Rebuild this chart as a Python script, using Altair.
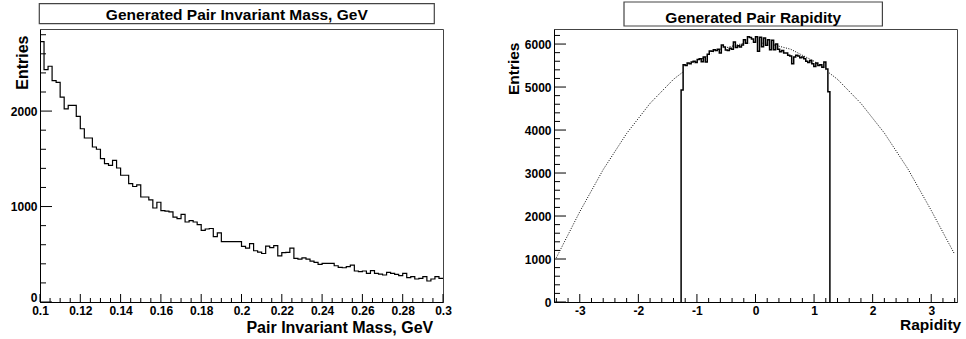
import altair as alt
import numpy as np
import pandas as pd

FONT = "Liberation Sans"
W, H = 403, 273

# ---------------- left panel: pair invariant mass ----------------
mass_range = [0.1, 0.3]
mass_counts = [
    2728, 2435, 2470, 2320, 2300, 2146, 2024, 2060, 2060, 1944,
    1815, 1718, 1718, 1624, 1600, 1502, 1450, 1432, 1484, 1404,
    1328, 1328, 1240, 1210, 1228, 1100, 1100, 1070, 985, 1045,
    958, 952, 945, 890, 873, 918, 838, 852, 838, 810,
    750, 765, 770, 684, 725, 632, 632, 632, 632, 632,
    583, 565, 612, 537, 523, 508, 585, 570, 590, 483,
    518, 520, 565, 457, 450, 462, 450, 429, 415, 394,
    405, 405, 405, 380, 363, 359, 370, 387, 325, 318,
    325, 300, 328, 300, 293, 283, 311, 300, 290, 276,
    300, 255, 265, 241, 248, 265, 220, 241, 265, 248,
]
mass_y_max = 2860
mass_x_ticks = [0.1, 0.12, 0.14, 0.16, 0.18, 0.2, 0.22, 0.24, 0.26, 0.28, 0.3]
mass_y_ticks = [0, 1000, 2000]

# ---------------- right panel: pair rapidity ----------------
rap_axis_range = [-3.44, 3.44]
rap_hist_range = [-1.27, 1.27]
rap_counts = [
    4930, 5520, 5500, 5560, 5540, 5580, 5600, 5570, 5640, 5660,
    5590, 5700, 5580, 5760, 5840, 5830, 5870, 5850, 5880, 5790,
    5980, 5930, 5860, 5850, 5900, 5880, 6050, 5920, 5960, 5930,
    5980, 6100, 6020, 6170, 6150, 6120, 6040, 6170, 5830, 6160,
    5940, 6140, 5970, 6100, 5870, 6090, 5870, 6000, 5880, 5820,
    5850, 5790, 5790, 5740, 5720, 5540, 5700, 5740, 5720, 5680,
    5700, 5660, 5600, 5570, 5620, 5540, 5480, 5560, 5500, 5520,
    5460, 5580, 5420, 4890,
]
rap_y_max = 6350
rap_x_ticks = [-3, -2, -1, 0, 1, 2, 3]
rap_y_ticks = [0, 1000, 2000, 3000, 4000, 5000, 6000]
fit_x = [-3.4, -3.0, -2.6, -2.2, -1.8, -1.4, -1.0, -0.6, -0.2,
         0.2, 0.6, 1.0, 1.4, 1.8, 2.2, 2.6, 3.0, 3.4]
fit_y = [1030, 2100, 3080, 3920, 4620, 5180, 5600, 5880, 6020,
         6020, 5880, 5600, 5180, 4620, 3930, 3100, 2130, 1110]


def hist_frame(lo, hi, counts, close):
    edges = np.linspace(lo, hi, len(counts) + 1)
    xs = list(edges[:-1]) + [edges[-1]]
    ys = list(counts) + [counts[-1]]
    if close:
        xs = [edges[0]] + xs + [edges[-1]]
        ys = [0] + ys + [0]
    return pd.DataFrame({"x": xs, "y": ys, "i": range(len(xs))})


def minor(lo, hi, step, majors):
    n = int(round((hi - lo) / step))
    vals = [round(lo + k * step, 6) for k in range(n + 1)]
    return [v for v in vals if all(abs(v - m) > 1e-9 for m in majors)]


def make_panel(xs, ys, xa, ya, layers_spec, x_major, x_minor, y_major, y_minor, box):
    X = lambda: alt.X("x:Q", scale=xs, axis=xa)
    Y = lambda: alt.Y("y:Q", scale=ys, axis=ya)
    layers = []
    for df, mark in layers_spec:
        kind = mark.pop("_kind", "line")
        ch = alt.Chart(df)
        ch = ch.mark_area(**mark) if kind == "area" else ch.mark_line(**mark)
        layers.append(ch.encode(x=X(), y=Y(), order="i:Q"))
    # inward ticks
    for vals, length in ((y_major, 12), (y_minor, 6)):
        layers.append(alt.Chart(pd.DataFrame({"y": vals})).mark_rule(color="black", strokeWidth=1)
                      .encode(y=Y(), x=alt.value(0), x2=alt.value(length)))
    for vals, length in ((x_major, 8), (x_minor, 4)):
        layers.append(alt.Chart(pd.DataFrame({"x": vals})).mark_rule(color="black", strokeWidth=1)
                      .encode(x=X(), y=alt.value(H), y2=alt.value(H - length)))
    text, x0, x1, y0, y1, size = box
    tdf = pd.DataFrame({"t": [text]})
    layers.append(alt.Chart(tdf).mark_rect(fill="white", stroke="#444", strokeWidth=1.2)
                  .encode(x=alt.value(x0), x2=alt.value(x1), y=alt.value(y0), y2=alt.value(y1)))
    layers.append(alt.Chart(tdf).mark_text(font=FONT, fontWeight="bold", fontSize=size, color="black",
                                           align="center", baseline="alphabetic")
                  .encode(text="t:N", x=alt.value((x0 + x1) / 2), y=alt.value(y1 - 3.5)))
    return alt.layer(*layers).properties(width=W, height=H)


def axis(values, title, size, tx, ty, orient, zero_shift=0, **kw):
    common = dict(
        values=values, ticks=False, grid=False, domainColor="black", domainWidth=1,
        labelFont=FONT, labelFontWeight="bold", labelFontSize=12, labelColor="black",
        title=title, titleFont=FONT, titleFontWeight="bold", titleFontSize=size,
        titleColor="black", titleAlign="right", titleX=tx, titleY=ty,
    )
    if orient == "x":
        common.update(labelFlush=False, labelPadding=3, titleBaseline="alphabetic")
    else:
        common.update(labelPadding=3, titleAngle=270, titleBaseline="middle", format="d")
        if zero_shift:
            common.update(labelOffset={"condition": {"test": "datum.value == 0", "value": zero_shift},
                                       "value": 0})
    common.update(kw)
    return alt.Axis(**common)


# ---- left chart ----
left = make_panel(
    alt.Scale(domain=mass_range, nice=False, zero=False),
    alt.Scale(domain=[0, mass_y_max], nice=False),
    axis(mass_x_ticks, "Pair Invariant Mass, GeV", 16, 392.7, 30.5, "x", format="~g"),
    axis(mass_y_ticks, "Entries", 16, -17.5, 6, "y", zero_shift=-5),
    [(hist_frame(mass_range[0], mass_range[1], mass_counts, False),
      dict(interpolate="step-after", color="black", strokeWidth=1.2))],
    mass_x_ticks, minor(0.1, 0.3, 0.005, mass_x_ticks),
    mass_y_ticks, minor(0, 2800, 200, mass_y_ticks),
    ("Generated Pair Invariant Mass, GeV", -0.7, 394.3, -25.3, -5.3, 15.5),
)

# ---- right chart ----
rap_df = hist_frame(rap_hist_range[0], rap_hist_range[1], rap_counts, True)
fit_df = pd.DataFrame({"x": fit_x, "y": fit_y, "i": range(len(fit_x))})
right = make_panel(
    alt.Scale(domain=rap_axis_range, nice=False, zero=False),
    alt.Scale(domain=[0, rap_y_max], nice=False),
    axis(rap_x_ticks, "Rapidity", 15.5, 406.7, 27.8, "x", labelExpr="toString(datum.value)"),
    axis(rap_y_ticks, "Entries", 15.5, -40.8, 13, "y"),
    [(fit_df, dict(color="black", strokeWidth=1, strokeDash=[1, 1.5])),
     (rap_df, dict(_kind="area", interpolate="step-after", color="white", opacity=1)),
     (rap_df, dict(interpolate="step-after", color="black", strokeWidth=1.5))],
    rap_x_ticks, minor(-3.4, 3.4, 0.2, rap_x_ticks),
    rap_y_ticks, minor(0, 6200, 200, rap_y_ticks),
    ("Generated Pair Rapidity", 70, 328.4, -27, -3, 15.5),
)

chart = alt.hconcat(left, right, spacing=111, bounds="flush").configure_view(
    stroke="#444", strokeWidth=1
).properties(padding={"left": 9, "top": 0, "right": 0, "bottom": 0}, background="white")

chart.save("out.html", embed_options={"renderer": "svg", "actions": False})
